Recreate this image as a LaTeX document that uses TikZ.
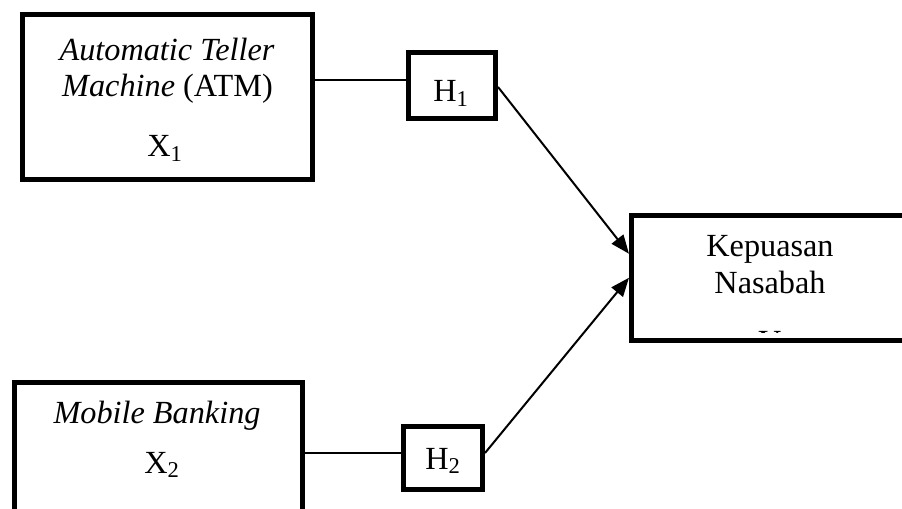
\documentclass[tikz,border=0pt]{standalone}
\usepackage{fontspec}
\setmainfont{Liberation Serif}
\usetikzlibrary{arrows.meta}
\tikzset{>={Triangle[length=14pt,width=11pt]}}

\begin{document}
\begin{tikzpicture}[x=0.75pt,y=-0.75pt,line width=1.5pt,
    var/.style = {draw, rectangle, line width=3.75pt, inner sep=0pt},
    txt/.style = {anchor=base, inner sep=0pt, font=\fontsize{24.2}{27.5}\selectfont}]
\useasboundingbox (0,0) rectangle (902,508);
    % boxes
    \node[var,minimum width=217.5pt,minimum height=123.75pt] (atm) at (167.5,97) {};
    \node[var,minimum width=216pt,minimum height=96.4pt] (mb) at (158.5,446.75) {};
    \node[var,minimum width=65.25pt,minimum height=49.5pt] (hone) at (452,85.5) {};
    \node[var,minimum width=59.25pt,minimum height=47.25pt] (htwo) at (443,458) {};
    \node[var,minimum width=231.4pt,minimum height=94.1pt] (kn) at (785.75,277.75) {};
    % texts
    \node[txt] (atmA) at (167,60) {\textit{Automatic Teller}};
    \node[txt] (atmB) at (167.5,96.7) {\textit{Machine} (ATM)};
    \node[txt] (xone) at (165,156.7) {X\textsubscript{1}};
    \node[txt] (mbA) at (157,423) {\textit{Mobile Banking}};
    \node[txt] (xtwo) at (162,473) {X\textsubscript{2}};
    \node[txt] (honeT) at (451,101.7) {H\textsubscript{1}};
    \node[txt] (htwoT) at (443,469) {H\textsubscript{2}};
    \node[txt] (knA) at (770,256.7) {Kepuasan};
    \node[txt] (knB) at (770,293) {Nasabah};
    \begin{scope}
      \clip (634,218) rectangle (902,332);
      \node[txt] (yvar) at (770,352) {Y};
    \end{scope}
    % lines
    \coordinate (a1) at ([yshift=12.4pt]atm.east);
    \draw (a1) -- (a1 -| hone.west);
    \coordinate (b1) at ([yshift=-5pt]mb.east);
    \draw (b1) -- (b1 -| htwo.west);
    \draw[->] ([yshift=-1.1pt]hone.east) -- ([yshift=18pt]kn.west);
    \draw[->] ([yshift=3.75pt]htwo.east) -- (kn.west);
\end{tikzpicture}
\end{document}
